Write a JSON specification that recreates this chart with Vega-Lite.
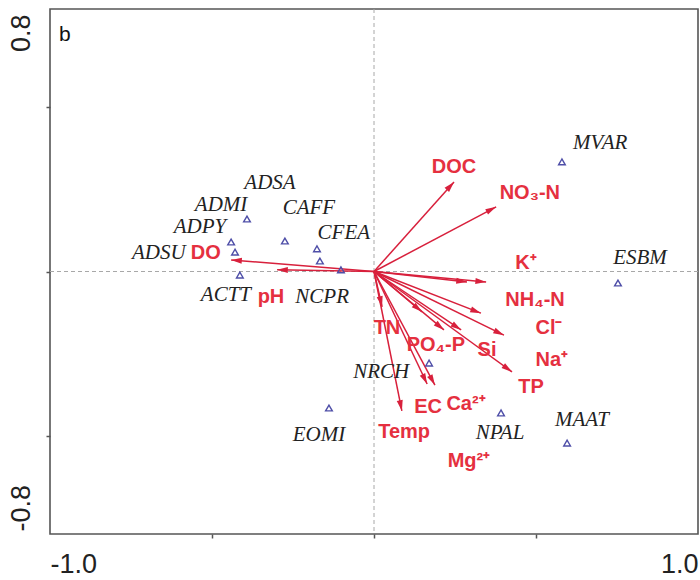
{
  "$schema": "https://vega.github.io/schema/vega-lite/v6.json",
  "width": 648,
  "height": 525,
  "autosize": {"type": "none"},
  "padding": {"left": 50, "top": 9, "right": 2, "bottom": 46},
  "background": "white",
  "config": {
    "view": {"stroke": "#555555", "strokeWidth": 1.6},
    "axis": {"grid": false, "domain": false}
  },
  "datasets": {
    "species": [
      {"name": "ADSA", "x": -0.392, "y": 0.160, "lx": -0.321, "ly": 0.270},
      {"name": "ADMI", "x": -0.441, "y": 0.090, "lx": -0.472, "ly": 0.203},
      {"name": "ADPY", "x": -0.429, "y": 0.059, "lx": -0.537, "ly": 0.136},
      {"name": "ADSU", "x": -0.176, "y": 0.069, "lx": -0.664, "ly": 0.056},
      {"name": "CAFF", "x": -0.275, "y": 0.093, "lx": -0.201, "ly": 0.194},
      {"name": "CFEA", "x": -0.167, "y": 0.032, "lx": -0.093, "ly": 0.117},
      {"name": "ACTT", "x": -0.414, "y": -0.011, "lx": -0.457, "ly": -0.072},
      {"name": "NCPR", "x": -0.102, "y": 0.005, "lx": -0.160, "ly": -0.078},
      {"name": "MVAR", "x": 0.580, "y": 0.334, "lx": 0.698, "ly": 0.392},
      {"name": "ESBM", "x": 0.753, "y": -0.035, "lx": 0.821, "ly": 0.041},
      {"name": "NRCH", "x": 0.170, "y": -0.279, "lx": 0.022, "ly": -0.306},
      {"name": "NPAL", "x": 0.392, "y": -0.431, "lx": 0.389, "ly": -0.492},
      {"name": "MAAT", "x": 0.596, "y": -0.523, "lx": 0.642, "ly": -0.453},
      {"name": "EOMI", "x": -0.139, "y": -0.416, "lx": -0.170, "ly": -0.498}
    ],
    "env": [
      {"name": "DOC", "label": "DOC", "x": 0.247, "y": 0.273, "lx": 0.247, "ly": 0.318},
      {"name": "NO3-N", "label": "NO₃-N", "x": 0.377, "y": 0.197, "lx": 0.481, "ly": 0.239},
      {"name": "K+", "label": "K⁺", "x": 0.346, "y": -0.032, "lx": 0.469, "ly": 0.026},
      {"name": "NH4-N", "label": "NH₄-N", "x": 0.287, "y": -0.032, "lx": 0.497, "ly": -0.087},
      {"name": "Cl-", "label": "Cl⁻", "x": 0.401, "y": -0.194, "lx": 0.540, "ly": -0.172},
      {"name": "Na+", "label": "Na⁺", "x": 0.330, "y": -0.127, "lx": 0.549, "ly": -0.270},
      {"name": "TP", "label": "TP", "x": 0.426, "y": -0.306, "lx": 0.485, "ly": -0.352},
      {"name": "Si", "label": "Si", "x": 0.269, "y": -0.178, "lx": 0.349, "ly": -0.239},
      {"name": "PO4-P", "label": "PO₄-P", "x": 0.216, "y": -0.178, "lx": 0.191, "ly": -0.224},
      {"name": "TN", "label": "TN", "x": 0.025, "y": -0.108, "lx": 0.040, "ly": -0.172},
      {"name": "EC", "label": "EC", "x": 0.164, "y": -0.343, "lx": 0.167, "ly": -0.413},
      {"name": "Ca2+", "label": "Ca²⁺", "x": 0.188, "y": -0.346, "lx": 0.284, "ly": -0.405},
      {"name": "Mg2+", "label": "Mg²⁺", "x": 0.148, "y": -0.123, "lx": 0.293, "ly": -0.578},
      {"name": "Temp", "label": "Temp", "x": 0.086, "y": -0.425, "lx": 0.093, "ly": -0.489},
      {"name": "DO", "label": "DO", "x": -0.441, "y": 0.035, "lx": -0.519, "ly": 0.056},
      {"name": "pH", "label": "pH", "x": -0.299, "y": 0.005, "lx": -0.318, "ly": -0.078}
    ],
    "one": [{"tag": "b"}]
  },
  "layer": [
    {
      "data": {"name": "species"},
      "mark": {"type": "point", "opacity": 0},
      "encoding": {
        "x": {
          "field": "x", "type": "quantitative", "title": null,
          "scale": {"domain": [-1, 1], "nice": false, "zero": false},
          "axis": {
            "title": null,
            "values": [-1, -0.5, 0, 0.5, 1],
            "labelExpr": "datum.value == 1 ? '1.0' : (datum.value == -1 ? '-1.0' : '')",
            "labelFlush": true,
            "labelFont": "Liberation Sans",
            "labelFontSize": 27,
            "labelColor": "#222222",
            "labelPadding": 13,
            "tickSize": 4,
            "tickWidth": 1.5,
            "tickColor": "#555555",
            "tickOpacity": {"condition": {"test": "abs(datum.value) > 0.9", "value": 0}, "value": 1}
          }
        },
        "y": {
          "field": "y", "type": "quantitative", "title": null,
          "scale": {"domain": [-0.8, 0.8], "nice": false, "zero": false},
          "axis": {
            "title": null,
            "values": [-0.8, -0.5, 0, 0.5, 0.8],
            "labelExpr": "datum.value == 0.8 ? '0.8' : (datum.value == -0.8 ? '-0.8' : '')",
            "labelAngle": -90,
            "labelFlush": false,
            "labelAlign": {"condition": {"test": "datum.value > 0", "value": "right"}, "value": "left"},
            "labelOffset": {"condition": {"test": "datum.value > 0", "value": 5}, "value": -3},
            "labelBaseline": "bottom",
            "labelFont": "Liberation Sans",
            "labelFontSize": 27,
            "labelColor": "#222222",
            "labelPadding": 11,
            "tickSize": 4,
            "tickWidth": 1.5,
            "tickColor": "#555555",
            "tickOpacity": {"condition": {"test": "abs(datum.value) > 0.7", "value": 0}, "value": 1}
          }
        }
      }
    },
    {
      "data": {"name": "one"},
      "mark": {"type": "rule", "color": "#a8a8a8", "strokeDash": [4, 3], "strokeWidth": 1},
      "encoding": {"x": {"datum": 0, "type": "quantitative", "title": null}}
    },
    {
      "data": {"name": "one"},
      "mark": {"type": "rule", "color": "#a8a8a8", "strokeDash": [4, 3], "strokeWidth": 1},
      "encoding": {"y": {"datum": 0, "type": "quantitative", "title": null}}
    },
    {
      "data": {"name": "env"},
      "mark": {"type": "rule", "color": "#d8203c", "strokeWidth": 1.5},
      "encoding": {
        "x": {"field": "x", "type": "quantitative", "title": null},
        "y": {"field": "y", "type": "quantitative", "title": null},
        "x2": {"datum": 0},
        "y2": {"datum": 0}
      }
    },
    {
      "data": {"name": "env"},
      "transform": [{"calculate": "90 - atan2(datum.y, datum.x) * 180 / PI", "as": "ang"}],
      "mark": {"type": "point", "shape": "M0,0L0.45,1.6L-0.45,1.6Z", "filled": true, "color": "#d8203c", "opacity": 1, "size": 180},
      "encoding": {
        "x": {"field": "x", "type": "quantitative", "title": null},
        "y": {"field": "y", "type": "quantitative", "title": null},
        "angle": {"field": "ang", "type": "quantitative", "scale": null}
      }
    },
    {
      "data": {"name": "species"},
      "mark": {"type": "point", "shape": "triangle-up", "filled": false, "color": "#4f4fa8", "strokeWidth": 1.4, "size": 45, "opacity": 1},
      "encoding": {
        "x": {"field": "x", "type": "quantitative", "title": null},
        "y": {"field": "y", "type": "quantitative", "title": null}
      }
    },
    {
      "data": {"name": "species"},
      "mark": {"type": "text", "font": "Liberation Serif", "fontStyle": "italic", "fontSize": 21, "color": "#222222", "align": "center", "baseline": "middle"},
      "encoding": {
        "x": {"field": "lx", "type": "quantitative", "title": null},
        "y": {"field": "ly", "type": "quantitative", "title": null},
        "text": {"field": "name"}
      }
    },
    {
      "data": {"name": "env"},
      "mark": {"type": "text", "font": "Liberation Sans", "fontWeight": "bold", "fontSize": 20, "color": "#e5303f", "align": "center", "baseline": "middle"},
      "encoding": {
        "x": {"field": "lx", "type": "quantitative", "title": null},
        "y": {"field": "ly", "type": "quantitative", "title": null},
        "text": {"field": "label"}
      }
    },
    {
      "data": {"name": "one"},
      "mark": {"type": "text", "font": "Liberation Sans", "fontSize": 21, "color": "#111111", "align": "center", "baseline": "middle"},
      "encoding": {
        "x": {"datum": -0.954, "type": "quantitative", "title": null},
        "y": {"datum": 0.721, "type": "quantitative", "title": null},
        "text": {"field": "tag"}
      }
    }
  ]
}
